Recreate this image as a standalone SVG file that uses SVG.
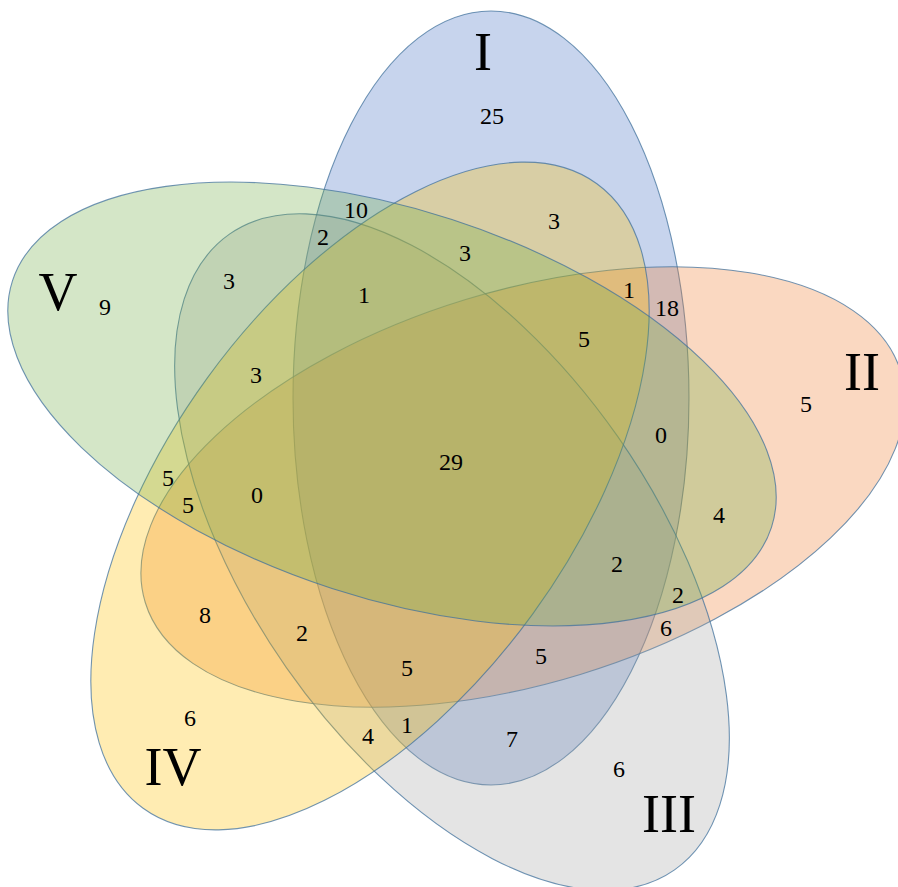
<svg xmlns="http://www.w3.org/2000/svg" width="898" height="887" viewBox="0 0 898 887">
<style>
.set{fill-opacity:0.3;stroke:#41719C;stroke-opacity:0.75;stroke-width:1.1}
.big{font-family:"Liberation Serif","Times New Roman",serif;font-size:54px;fill:#000;text-anchor:middle}
.n{font-family:"Liberation Serif","Times New Roman",serif;font-size:24px;fill:#000;text-anchor:middle}
</style>
<rect width="898" height="887" fill="#fff"/>
<g id="set-I">
<ellipse class="set" fill="#4472C4" cx="491" cy="398" rx="198" ry="387"/>
</g>
<g id="set-II">
<ellipse class="set" fill="#ED7D31" cx="523" cy="487" rx="395" ry="196" transform="rotate(-17 523 487)"/>
</g>
<g id="set-III">
<ellipse class="set" fill="#A5A5A5" cx="452" cy="552" rx="388" ry="202" transform="rotate(55 452 552)"/>
</g>
<g id="set-IV">
<ellipse class="set" fill="#FFC000" cx="370" cy="496" rx="386" ry="201" transform="rotate(-54 370 496)"/>
</g>
<g id="set-V">
<ellipse class="set" fill="#70AD47" cx="392" cy="404" rx="399" ry="194" transform="rotate(18 392 404)"/>
</g>
<g id="set-labels">
<text class="big" x="483" y="70">I</text>
<text class="big" x="862" y="390">II</text>
<text class="big" x="669" y="832">III</text>
<text class="big" x="173" y="785">IV</text>
<text class="big" x="58" y="310">V</text>
</g>
<g id="counts">
<text class="n" x="492" y="124">25</text>
<text class="n" x="105" y="315">9</text>
<text class="n" x="356" y="218">10</text>
<text class="n" x="323" y="245">2</text>
<text class="n" x="229" y="289">3</text>
<text class="n" x="364" y="303">1</text>
<text class="n" x="256" y="383">3</text>
<text class="n" x="554" y="229">3</text>
<text class="n" x="465" y="261">3</text>
<text class="n" x="629" y="298">1</text>
<text class="n" x="667" y="316">18</text>
<text class="n" x="584" y="347">5</text>
<text class="n" x="806" y="412">5</text>
<text class="n" x="661" y="443">0</text>
<text class="n" x="451" y="470">29</text>
<text class="n" x="168" y="486">5</text>
<text class="n" x="188" y="513">5</text>
<text class="n" x="257" y="503">0</text>
<text class="n" x="719" y="523">4</text>
<text class="n" x="617" y="572">2</text>
<text class="n" x="678" y="603">2</text>
<text class="n" x="205" y="623">8</text>
<text class="n" x="302" y="641">2</text>
<text class="n" x="666" y="636">6</text>
<text class="n" x="541" y="664">5</text>
<text class="n" x="407" y="676">5</text>
<text class="n" x="190" y="726">6</text>
<text class="n" x="407" y="733">1</text>
<text class="n" x="368" y="744">4</text>
<text class="n" x="512" y="747">7</text>
<text class="n" x="619" y="777">6</text>
</g>
</svg>
